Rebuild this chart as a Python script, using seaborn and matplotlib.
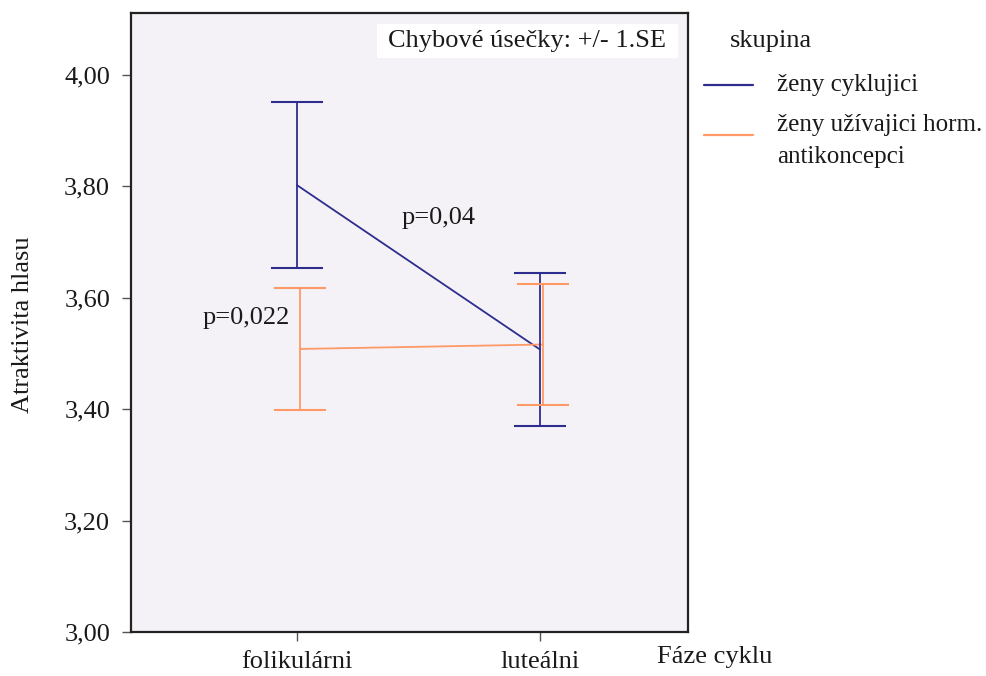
import matplotlib
matplotlib.use("Agg")
import matplotlib.pyplot as plt
from matplotlib.lines import Line2D
from matplotlib.patches import Rectangle
import numpy as np
import pandas as pd
import seaborn as sns

# --- data -------------------------------------------------------------
faze = ["folikulárni", "luteálni"]
skupiny = ["ženy cyklujici", "ženy užívajici horm. antikoncepci"]
prumer_cyklujici = [3.802, 3.507]
se_cyklujici = [0.149, 0.138]
prumer_hormonalni = [3.508, 3.516]
se_hormonalni = [0.109, 0.108]
y_ticks = [3.00, 3.20, 3.40, 3.60, 3.80, 4.00]
barvy = ["#2D2D8E", "#FF9966"]

df = pd.DataFrame({
    "faze": faze * 2,
    "skupina": [skupiny[0]] * 2 + [skupiny[1]] * 2,
    "prumer": prumer_cyklujici + prumer_hormonalni,
    "se": se_cyklujici + se_hormonalni,
})
# slight horizontal dodge so the two groups' error bars do not overlap
dodge = {skupiny[0]: 0.0, skupiny[1]: 0.012}
df["x"] = df["faze"].map({f: i for i, f in enumerate(faze)}) + df["skupina"].map(dodge)

# --- style ------------------------------------------------------------
sns.set_style("ticks")
plt.rcParams["font.family"] = ["Liberation Serif", "DejaVu Serif"]
FS = 19
FS_LEG = 18
TXT = "#1a1a1a"

fig = plt.figure(figsize=(9.87, 6.76), dpi=100)
W, H = 987, 676
ax = fig.add_axes([131 / W, 1 - 632 / H, 557 / W, 619 / H])
ax.set_facecolor("#F5F2F7")

sns.lineplot(data=df, x="x", y="prumer", hue="skupina", hue_order=skupiny,
             palette=barvy, linewidth=1.3, legend=False, ax=ax, sort=True)

for sk, col in zip(skupiny, barvy):
    d = df[df["skupina"] == sk]
    ax.errorbar(d["x"], d["prumer"], yerr=d["se"], fmt="none", ecolor=col,
                elinewidth=1.3, capsize=18.5, capthick=1.5)

ax.set_xlim(-0.683, 1.609)
ax.set_ylim(3.0, 4.111)
ax.set_xticks(range(len(faze)))
ax.set_xticklabels(faze)
ax.set_yticks(y_ticks)
ax.set_yticklabels([f"{v:.2f}".replace(".", ",") for v in y_ticks])
ax.tick_params(axis="both", labelsize=FS, labelcolor=TXT, color="#555555",
               length=6.5, width=1.0)
ax.tick_params(axis="y", pad=8.5)
ax.tick_params(axis="x", pad=7)

for s in ax.spines.values():
    s.set_color("#222222")
    s.set_linewidth(1.6)
    s.set_visible(True)

ax.set_ylabel("Atraktivita hlasu", fontsize=FS, color=TXT, va="center")
ax.yaxis.set_label_coords(-0.193, 0.496)
ax.set_xlabel("Fáze cyklu", fontsize=FS, color=TXT, ha="left", va="center")
ax.xaxis.set_label_coords(0.944, -0.040)

# error bar note in white box
ax.add_patch(Rectangle((0.4417, 0.9273), 0.5404, 0.0549, transform=ax.transAxes,
                       facecolor="white", edgecolor="none", zorder=3))
ax.text(0.711, 0.9548, "Chybové úsečky: +/- 1.SE", transform=ax.transAxes,
        ha="center", va="center", fontsize=FS, color=TXT, zorder=4)

# significance annotations
ax.text(0.432, 3.743, "p=0,04", ha="left", va="center", fontsize=FS, color=TXT)
ax.text(-0.387, 3.564, "p=0,022", ha="left", va="center", fontsize=FS, color=TXT)

# legend on the right
def fx(px):
    return px / W

def fy(py):
    return 1 - py / H

fig.text(fx(730), fy(47), "skupina", fontsize=FS, color=TXT, va="baseline", ha="left")
fig.add_artist(Line2D([fx(704), fx(753)], [fy(85), fy(85)], color=barvy[0], lw=1.6))
fig.text(fx(777), fy(91), "ženy cyklujici", fontsize=FS_LEG, color=TXT, va="baseline", ha="left")
fig.add_artist(Line2D([fx(704), fx(753)], [fy(135), fy(135)], color=barvy[1], lw=1.6))
fig.text(fx(777), fy(131), "ženy užívajici horm.", fontsize=FS_LEG, color=TXT, va="baseline", ha="left")
fig.text(fx(777), fy(163), "antikoncepci", fontsize=FS_LEG, color=TXT, va="baseline", ha="left")

fig.savefig("out.png", dpi=100, facecolor="white")
